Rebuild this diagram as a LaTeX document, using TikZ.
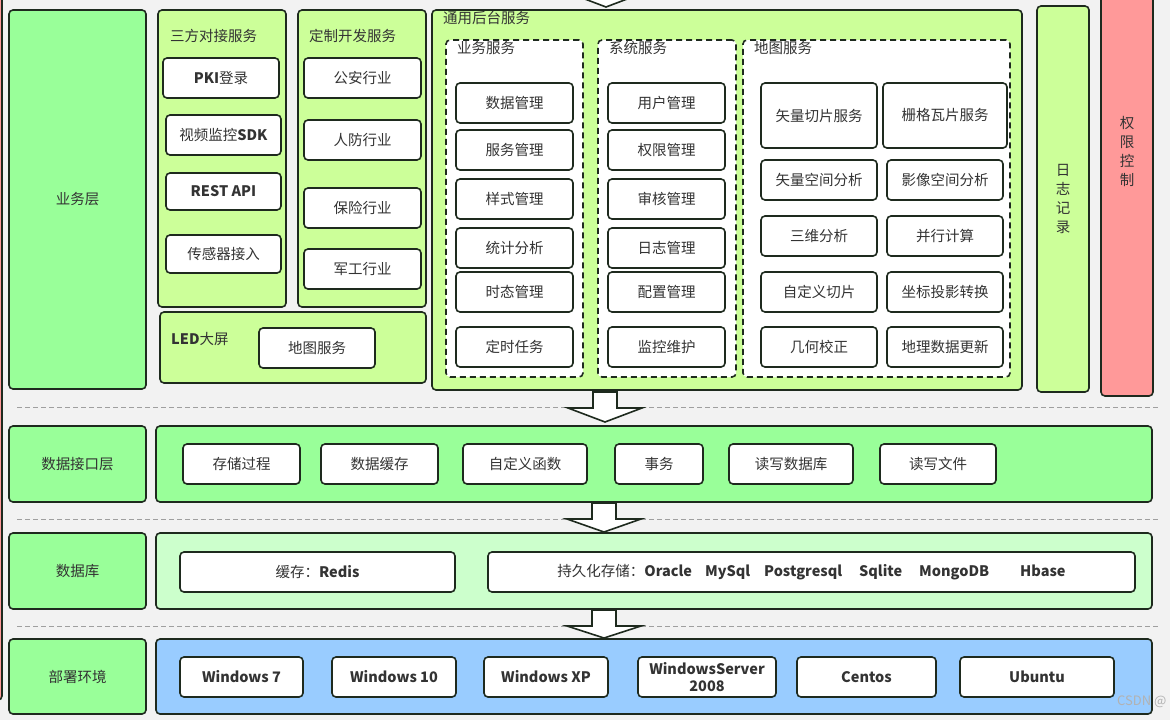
\documentclass[tikz,border=0pt]{standalone}
\usepackage{fontspec}
\setmainfont{Noto Sans CJK SC}
\definecolor{bg}{HTML}{F2F2F2}
\definecolor{dk}{HTML}{1E2A1E}
\definecolor{tx}{HTML}{333333}
\definecolor{gA}{HTML}{99FF99}
\definecolor{gB}{HTML}{CCFF99}
\definecolor{gC}{HTML}{CCFFCC}
\definecolor{rA}{HTML}{FF9999}
\definecolor{bA}{HTML}{99CCFF}
\tikzset{
  bx/.style={draw=dk, line width=1.6pt, rounded corners=4pt, fill=white, text=tx,
    font=\fontsize{14.5}{19}\selectfont, inner sep=0pt, align=center},
  grp/.style={bx, fill=#1},
  dbox/.style={bx, dash pattern=on 6pt off 4pt},
  ttl/.style={anchor=west, text=tx, font=\fontsize{14.5}{17}\selectfont, inner sep=0pt},
  sepline/.style={draw=gray!75, dash pattern=on 5pt off 3pt, line width=0.8pt},
  barrow/.style={draw=dk, line width=1.6pt, fill=white, line join=miter}
}
\newcommand\mybox[7]{\node[#6, minimum width={(#4)-(#2)}, minimum height={(#5)-(#3)}] (#1) at ({((#2)+(#4))/2},{((#3)+(#5))/2}) {#7};}
\newcommand\blkarrow[4]{\draw[barrow] ({#1-12},#2) -- ({#1+12},#2) -- ({#1+12},#3) -- ({#1+37},#3) -- (#1,#4) -- ({#1-37},#3) -- ({#1-12},#3) -- cycle;}
\begin{document}
\begin{tikzpicture}[x=1pt,y=-1pt]
\useasboundingbox (0,0) rectangle (1170,720);
\clip (0,0) rectangle (1170,720);
\fill[bg] (0,0) rectangle (1170,720);
% left clipped red box
\draw[fill=rA, draw=dk, line width=1.6pt, rounded corners=4pt] (-30,-30) rectangle (2,700);
% top arrow (clipped)
\blkarrow{606}{-30}{-7}{7}

% ===== layer 1 =====
\mybox{l1}{9}{10}{146}{389}{grp=gA}{业务层}

\mybox{g3}{158}{10}{286}{307}{grp=gB}{}
\node[ttl] (g3t) at (170,36) {三方对接服务};
\mybox{pki}{163}{58}{279}{98}{bx}{\textbf{PKI}登录}
\mybox{sdk}{166}{115}{281}{155}{bx}{视频监控\textbf{SDK}}
\mybox{rest}{166}{173}{281}{210}{bx}{\textbf{REST API}}
\mybox{sens}{166}{235}{281}{273}{bx}{传感器接入}

\mybox{gc}{298}{10}{426}{307}{grp=gB}{}
\node[ttl] (gct) at (309,36) {定制开发服务};
\mybox{ga}{304}{58}{421}{98}{bx}{公安行业}
\mybox{rf}{304}{120}{421}{160}{bx}{人防行业}
\mybox{bx1}{304}{188}{421}{228}{bx}{保险行业}
\mybox{jg}{304}{249}{421}{289}{bx}{军工行业}

\mybox{led}{160}{312}{426}{383}{grp=gB}{}
\node[ttl] (ledt) at (171,339) {\textbf{LED}大屏};
\mybox{ledmap}{259}{328}{375}{368}{bx}{地图服务}

\mybox{gen}{432}{10}{1022}{390}{grp=gB}{}
\node[ttl] (gent) at (443,18) {通用后台服务};

\mybox{ywfw}{446}{40}{583}{377}{dbox}{}
\node[ttl] (ywfwt) at (457,48) {业务服务};
\mybox{xtfw}{598}{40}{736}{377}{dbox}{}
\node[ttl] (xtfwt) at (609,48) {系统服务};
\mybox{dtfw}{743}{40}{1010}{377}{dbox}{}
\node[ttl] (dtfwt) at (754,48) {地图服务};

\mybox{a1}{456}{83}{573}{123}{bx}{数据管理}
\mybox{a2}{456}{130}{573}{170}{bx}{服务管理}
\mybox{a3}{456}{179}{573}{219}{bx}{样式管理}
\mybox{a4}{456}{228}{573}{268}{bx}{统计分析}
\mybox{a5}{456}{272}{573}{312}{bx}{时态管理}
\mybox{a6}{456}{327}{573}{367}{bx}{定时任务}

\mybox{b1}{608}{83}{725}{123}{bx}{用户管理}
\mybox{b2}{608}{130}{725}{170}{bx}{权限管理}
\mybox{b3}{608}{179}{725}{219}{bx}{审核管理}
\mybox{b4}{608}{228}{725}{268}{bx}{日志管理}
\mybox{b5}{608}{272}{725}{312}{bx}{配置管理}
\mybox{b6}{608}{327}{725}{367}{bx}{监控维护}

\mybox{c1}{761}{83}{877}{148}{bx}{矢量切片服务}
\mybox{c2}{883}{83}{1007}{148}{bx}{栅格瓦片服务}
\mybox{c3}{761}{160}{877}{200}{bx}{矢量空间分析}
\mybox{c4}{887}{160}{1003}{200}{bx}{影像空间分析}
\mybox{c5}{761}{216}{877}{256}{bx}{三维分析}
\mybox{c6}{887}{216}{1003}{256}{bx}{并行计算}
\mybox{c7}{761}{272}{877}{312}{bx}{自定义切片}
\mybox{c8}{887}{272}{1003}{312}{bx}{坐标投影转换}
\mybox{c9}{761}{327}{877}{367}{bx}{几何校正}
\mybox{c10}{887}{327}{1003}{367}{bx}{地理数据更新}

\mybox{log}{1037}{6}{1089}{392}{grp=gB}{}
\node[text=tx, align=center, font=\fontsize{14.5}{19}\selectfont] (logt) at (1063,199) {日\\志\\记\\录};
\mybox{perm}{1101}{-8}{1153}{396}{grp=rA}{}
\node[text=tx, align=center, font=\fontsize{14.5}{19}\selectfont] (permt) at (1127,151) {权\\限\\控\\制};

% separators
\draw[sepline] (17,407) -- (1158,407);
\draw[sepline] (17,519) -- (1158,519);
\draw[sepline] (17,626) -- (1158,626);

% block arrows
\blkarrow{605}{392}{408}{422}
\blkarrow{604}{503}{519}{532}
\blkarrow{604}{610}{626}{638}

% ===== layer 2 =====
\mybox{l2}{9}{426}{146}{502}{grp=gA}{数据接口层}
\mybox{l2c}{156}{426}{1152}{502}{grp=gA}{}
\mybox{d1}{183}{444}{300}{484}{bx}{存储过程}
\mybox{d2}{321}{444}{438}{484}{bx}{数据缓存}
\mybox{d3}{463}{444}{587}{484}{bx}{自定义函数}
\mybox{d4}{615}{444}{703}{484}{bx}{事务}
\mybox{d5}{729}{444}{853}{484}{bx}{读写数据库}
\mybox{d6}{880}{444}{996}{484}{bx}{读写文件}

% ===== layer 3 =====
\mybox{l3}{9}{533}{146}{609}{grp=gA}{数据库}
\mybox{l3c}{156}{533}{1152}{609}{grp=gC}{}
\mybox{e1}{180}{552}{455}{592}{bx}{缓存：\textbf{Redis}}
\mybox{e2}{488}{552}{1135}{592}{bx}{持久化存储：\textbf{Oracle\hspace{13pt}MySql\hspace{14pt}Postgresql\hspace{17pt}Sqlite\hspace{17pt}MongoDB\hspace{31pt}Hbase}}

% ===== layer 4 =====
\mybox{l4}{9}{639}{146}{714}{grp=gA}{部署环境}
\mybox{l4c}{156}{639}{1152}{714}{grp=bA}{}
\mybox{w1}{180}{657}{303}{697}{bx}{\textbf{Windows 7}}
\mybox{w2}{332}{657}{456}{697}{bx}{\textbf{Windows 10}}
\mybox{w3}{484}{657}{608}{697}{bx}{\textbf{Windows XP}}
\mybox{w4}{638}{657}{776}{697}{bx}{\textbf{WindowsServer}\\[-2pt]\textbf{2008}}
\mybox{w5}{797}{657}{936}{697}{bx}{\textbf{Centos}}
\mybox{w6}{960}{657}{1114}{697}{bx}{\textbf{Ubuntu}}

\node[anchor=west, text=gray!60, font=\fontsize{13}{15}\selectfont, inner sep=0pt] (wm) at (1117,702) {CSDN @};
\end{tikzpicture}
\end{document}
